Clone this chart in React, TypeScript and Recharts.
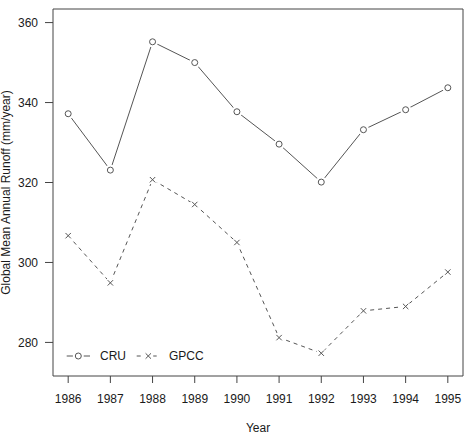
import React from 'react';
import { LineChart, Line, XAxis, YAxis, ReferenceArea, Legend } from 'recharts';

const years = [1986, 1987, 1988, 1989, 1990, 1991, 1992, 1993, 1994, 1995];
const cruValues = [337.2, 323.1, 355.2, 350.0, 337.7, 329.6, 320.1, 333.2, 338.2, 343.7];
const gpccValues = [306.7, 294.9, 320.7, 314.5, 305.0, 281.2, 277.3, 287.9, 289.0, 297.6];
const yTicks = [280, 300, 320, 340, 360];
const seriesNames = ['CRU', 'GPCC'];
const xLabel = 'Year';
const yLabel = 'Global Mean Annual Runoff (mm/year)';

const xDomain: [number, number] = [1985.64, 1995.36];
const yDomain: [number, number] = [271.6, 363.4];

const data = years.map((y, i) => ({ year: y, CRU: cruValues[i], GPCC: gpccValues[i] }));

const INK = '#555';
const BOX = '#444';
const TEXT = '#1a1a1a';
const FONT = '"Liberation Sans", Arial, Helvetica, sans-serif';

const CircleDot = (p: any) => {
  if (p.cx == null || p.cy == null) return null;
  return (
    <g key={p.key}>
      <circle cx={p.cx} cy={p.cy} r={5.5} fill="#fff" stroke="none" />
      <circle cx={p.cx} cy={p.cy} r={3} fill="none" stroke={INK} strokeWidth={1} />
    </g>
  );
};

const CrossDot = (p: any) => {
  if (p.cx == null || p.cy == null) return null;
  const s = 2.7;
  return (
    <g key={p.key}>
      <circle cx={p.cx} cy={p.cy} r={5} fill="#fff" stroke="none" />
      <line x1={p.cx - s} y1={p.cy - s} x2={p.cx + s} y2={p.cy + s} stroke={INK} strokeWidth={1} />
      <line x1={p.cx - s} y1={p.cy + s} x2={p.cx + s} y2={p.cy - s} stroke={INK} strokeWidth={1} />
    </g>
  );
};

const LegendContent = () => (
  <svg width={150} height={20} style={{ display: 'block' }}>
    <line x1={6.7} y1={10} x2={30} y2={10} stroke={INK} strokeWidth={1} />
    <CircleDot cx={18.3} cy={10} />
    <text x={40} y={14.3} fontSize={12} fontFamily={FONT} fill={TEXT}>{seriesNames[0]}</text>
    <line x1={76.7} y1={10} x2={100} y2={10} stroke={INK} strokeWidth={1} strokeDasharray="4 4" />
    <CrossDot cx={88.3} cy={10} />
    <text x={109} y={14.3} fontSize={12} fontFamily={FONT} fill={TEXT}>{seriesNames[1]}</text>
  </svg>
);

export default function App() {
  return (
    <div style={{ position: 'absolute', left: 0, top: 0, width: 469, height: 434, background: '#fff' }}>
      <LineChart width={469} height={434} data={data} margin={{ top: 9, right: 6, bottom: 0, left: 0 }}>
        <XAxis
          dataKey="year"
          type="number"
          domain={xDomain}
          ticks={years}
          allowDataOverflow
          height={58}
          axisLine={false}
          tickSize={7}
          tickMargin={11}
          tickLine={{ stroke: BOX }}
          tick={{ fill: TEXT, fontSize: 12, fontFamily: FONT }}
          interval={0}
          label={({ viewBox }: any) => {
            const vb = viewBox || { x: 53, y: 376, width: 410, height: 58 };
            return (
              <text x={vb.x + vb.width / 2} y={vb.y + 55.5} textAnchor="middle" fontSize={12} fontFamily={FONT} fill={TEXT}>
                {xLabel}
              </text>
            );
          }}
        />
        <YAxis
          type="number"
          domain={yDomain}
          ticks={yTicks}
          allowDataOverflow
          width={53}
          axisLine={false}
          tickSize={8}
          tickMargin={7}
          tickLine={{ stroke: BOX }}
          tick={{ fill: TEXT, fontSize: 12, fontFamily: FONT }}
          interval={0}
          label={({ viewBox }: any) => {
            const vb = viewBox || { x: 0, y: 9, width: 53, height: 367 };
            const cx = 10;
            const cy = vb.y + vb.height / 2;
            return (
              <text x={cx} y={cy} transform={`rotate(-90, ${cx}, ${cy})`} textAnchor="middle" fontSize={12} fontFamily={FONT} fill={TEXT}>
                {yLabel}
              </text>
            );
          }}
        />
        <ReferenceArea
          x1={xDomain[0]}
          x2={xDomain[1]}
          y1={yDomain[0]}
          y2={yDomain[1]}
          fill="none"
          fillOpacity={0}
          stroke={BOX}
          strokeWidth={1}
          ifOverflow="visible"
        />
        <Line
          dataKey="CRU"
          name={seriesNames[0]}
          type="linear"
          stroke={INK}
          strokeWidth={1}
          dot={CircleDot}
          activeDot={false}
          isAnimationActive={false}
        />
        <Line
          dataKey="GPCC"
          name={seriesNames[1]}
          type="linear"
          stroke={INK}
          strokeWidth={1}
          strokeDasharray="4 4"
          dot={CrossDot}
          activeDot={false}
          isAnimationActive={false}
        />
        <Legend
          layout="horizontal"
          verticalAlign="middle"
          align="center"
          content={LegendContent}
          wrapperStyle={{ position: 'absolute', left: 60, top: 346, width: 150, height: 20 }}
        />
      </LineChart>
    </div>
  );
}
